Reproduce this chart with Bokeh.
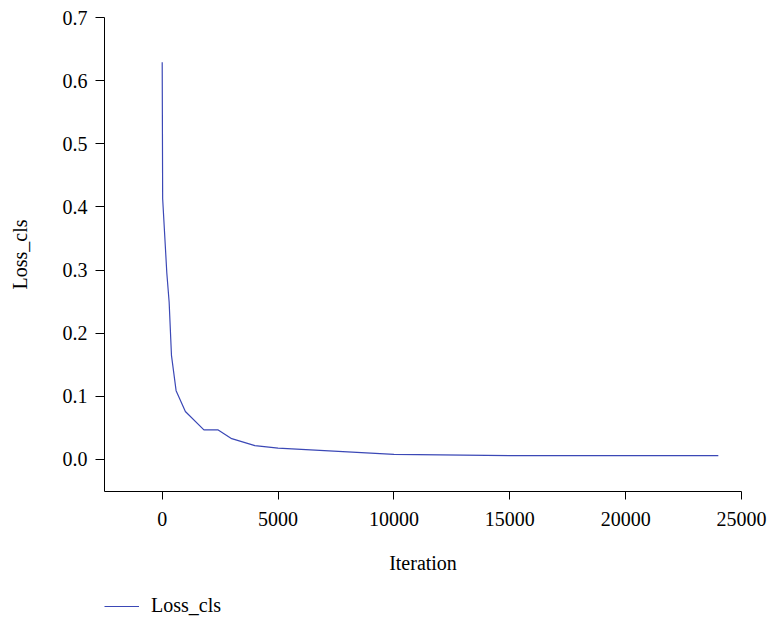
from bokeh.plotting import figure
from bokeh.layouts import column
from bokeh.models import Range1d, FixedTicker, NumeralTickFormatter, Legend, LegendItem
from bokeh.embed import file_html
from bokeh.resources import INLINE

# Data
iteration = [0, 20, 200, 300, 400, 600, 1000, 1800, 2400, 3000, 4000, 5000, 10000, 15000, 20000, 24000]
loss_cls = [0.629, 0.413, 0.295, 0.249, 0.165, 0.109, 0.076, 0.047, 0.047, 0.033, 0.022, 0.018, 0.008, 0.006, 0.006, 0.006]
x_ticks = [0, 5000, 10000, 15000, 20000, 25000]
y_ticks = [0.0, 0.1, 0.2, 0.3, 0.4, 0.5, 0.6, 0.7]
series_name = "Loss_cls"

FONT = "Liberation Serif"
LINE_COLOR = "#3b48b6"

p = figure(width=767, height=581, output_backend="svg", toolbar_location=None,
           x_range=Range1d(-2490, 25000), y_range=Range1d(-0.0507, 0.7),
           min_border_left=104, min_border_right=26, min_border_top=17, min_border_bottom=90)
p.outline_line_color = None
p.grid.grid_line_color = None

p.line(iteration, loss_cls, line_color=LINE_COLOR, line_width=1.2)

for ax in (p.xaxis[0], p.yaxis[0]):
    ax.axis_line_color = "black"
    ax.major_tick_line_color = "black"
    ax.minor_tick_line_color = None
    ax.major_tick_in = 0
    ax.major_label_text_font = FONT
    ax.major_label_text_font_size = "20px"
    ax.major_label_text_color = "black"
    ax.axis_label_text_font = FONT
    ax.axis_label_text_font_size = "20px"
    ax.axis_label_text_font_style = "normal"
    ax.axis_label_text_color = "black"

p.xaxis[0].ticker = FixedTicker(ticks=x_ticks)
p.xaxis[0].formatter = NumeralTickFormatter(format="0")
p.xaxis[0].axis_label = "Iteration"
p.xaxis[0].major_tick_out = 8
p.xaxis[0].major_label_standoff = 12
p.xaxis[0].axis_label_standoff = 23

p.yaxis[0].ticker = FixedTicker(ticks=y_ticks)
p.yaxis[0].formatter = NumeralTickFormatter(format="0.0")
p.yaxis[0].axis_label = series_name
p.yaxis[0].major_tick_out = 9
p.yaxis[0].major_label_standoff = 8
p.yaxis[0].axis_label_standoff = 29

# Legend strip below the chart (separate figure so the legend sits outside the plot area)
leg = figure(width=767, height=37, output_backend="svg", toolbar_location=None,
             x_range=Range1d(-10, -5), y_range=Range1d(-10, -5),
             x_axis_type=None, y_axis_type=None, min_border=0)
leg.outline_line_color = None
leg.grid.grid_line_color = None
r2 = leg.line(iteration, loss_cls, line_color=LINE_COLOR, line_width=1.2)

legend = Legend(items=[LegendItem(label=series_name, renderers=[r2])],
                location=(0, 1), orientation="horizontal",
                margin=0, padding=0, border_line_color=None, background_fill_alpha=0,
                glyph_width=35, glyph_height=20, label_height=20, label_standoff=12,
                label_text_font=FONT, label_text_font_size="20px", label_text_color="black")
leg.add_layout(legend, "center")

layout = column(p, leg, spacing=0)
open("out.html", "w").write(file_html(layout, INLINE))
